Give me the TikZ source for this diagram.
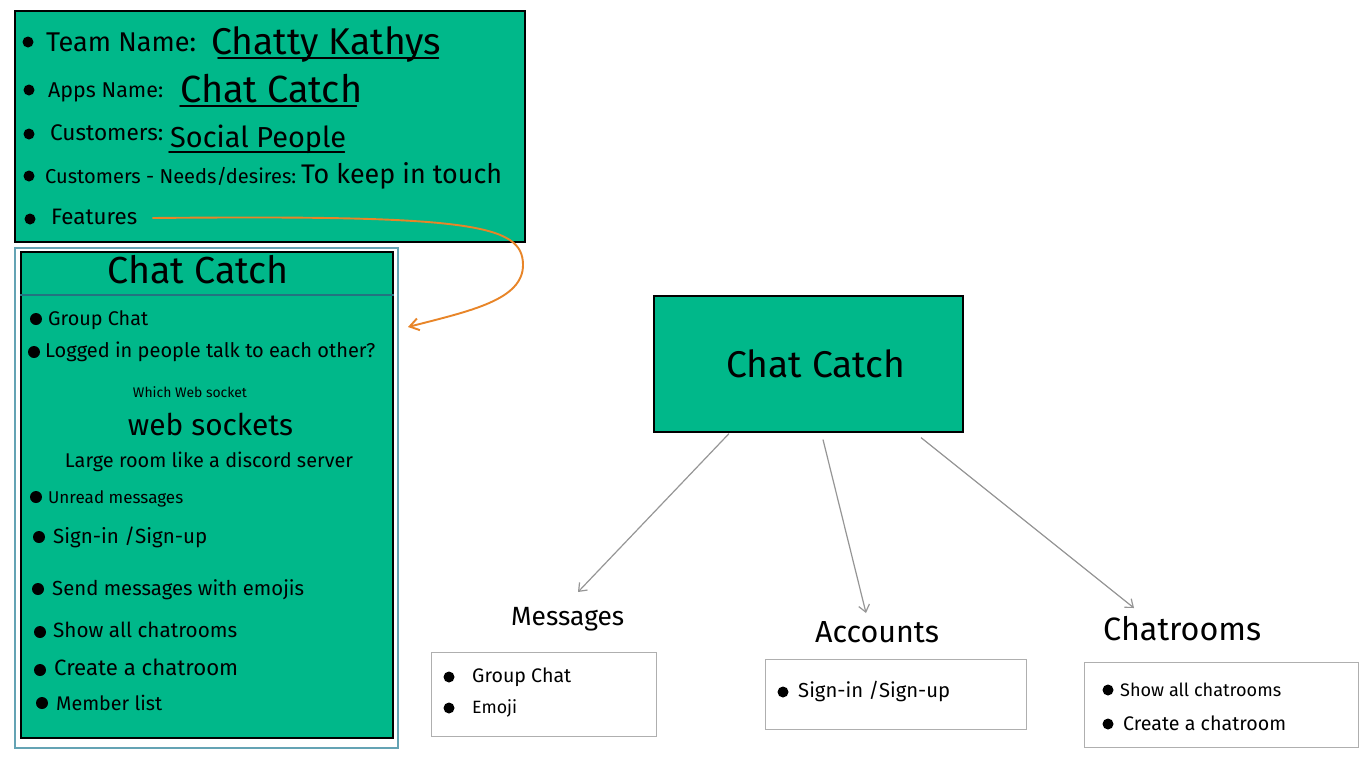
\documentclass[tikz,border=0pt]{standalone}
\usepackage{fontspec}
\usepackage{graphicx}
\setmainfont{Fira Sans}
\usetikzlibrary{arrows.meta,calc}
\definecolor{xgreen}{RGB}{0,184,138}
\definecolor{frameblue}{RGB}{100,163,180}
\definecolor{headteal}{RGB}{35,115,128}
\definecolor{arrgray}{RGB}{150,150,150}
\definecolor{xorange}{RGB}{232,133,40}
\definecolor{boxgray}{RGB}{175,175,175}
\newcommand{\tw}[2]{\resizebox{#1pt}{!}{#2}}
\begin{document}
\begin{tikzpicture}[x=1pt,y=-1pt,
  txt/.style={anchor=base west, inner sep=0pt, text=black},
  ctxt/.style={anchor=base, inner sep=0pt, text=black},
  dot/.style={circle, fill=black, inner sep=0pt, minimum size=11pt},
  bigdot/.style={circle, fill=black, inner sep=0pt, minimum size=12pt},
  gbox/.style={draw=black, fill=xgreen, line width=1.6pt, inner sep=0pt, anchor=north west},
  wbox/.style={draw=boxgray, line width=1.2pt, fill=white, inner sep=0pt, anchor=north west},
  ul/.style={line width=1.6pt, line cap=round},
  garrow/.style={draw=arrgray, line width=1.2pt, -{Straight Barb[length=7pt,width=11pt]}},
  oarrow/.style={draw=xorange, line width=1.9pt, -{Straight Barb[length=9pt,width=12pt]}},
]
\useasboundingbox (0,0) rectangle (1368,758);
\fill[white] (0,0) rectangle (1368,758);

% ---------- top info box ----------
\node[gbox, minimum width=510pt, minimum height=231pt] (top) at (14,10) {};
\node[dot] (d1) at (28,42) {};
\node[txt] (tn) at (46,51) {\tw{150}{Team Name:}};
\node[txt] (ck) at (211,54) {\tw{230}{Chatty Kathys}};
\draw[ul] ($(ck.base west)+(7,4)$) -- ($(ck.base east)+(-3,4)$);
\node[dot] (d2) at (29,90) {};
\node[txt] (an) at (48,97) {\tw{115}{Apps Name:}};
\node[txt] (acn) at (180,102) {\tw{182}{Chat Catch}};
\draw[ul] ($(acn.base west)+(0,4)$) -- ($(acn.base east)+(-6,4)$);
\node[dot] (d3) at (29,134) {};
\node[txt] (cu) at (50,140) {\tw{113}{Customers:}};
\node[txt] (sp) at (170,147) {\tw{176}{Social People}};
\draw[ul] ($(sp.base west)+(-1,5)$) -- ($(sp.base east)+(-2,5)$);
\node[dot] (d4) at (29,176) {};
\node[txt] (nd) at (45,183) {\tw{251}{Customers - Needs/desires:}};
\node[txt] (tk) at (301,183) {\tw{201}{To keep in touch}};
\node[dot] (d5) at (30,219) {};
\node[txt] (feat) at (51,224) {\tw{86}{Features}};

% ---------- left feature box ----------
\node[draw=frameblue, line width=1.5pt, fill=white, inner sep=0pt, anchor=north west,
      minimum width=383pt, minimum height=500pt] (lframe) at (14,247) {};
\node[gbox, minimum width=372pt, minimum height=486pt] (lin) at (20,251) {};
\draw[headteal, line width=1.5pt] ($(lin.north west)+(0,44)$) -- ($(lin.north east)+(0,44)$);
\node[ctxt] (hdr) at (198,283) {\tw{181}{Chat Catch}};
\node[bigdot] (l1) at (36,319) {};
\node[txt] (gc) at (48,325) {\tw{100}{Group Chat}};
\node[bigdot] (l2) at (34,352) {};
\node[txt] (lg) at (45,357) {\tw{330}{Logged in people talk to each other?}};
\node[ctxt] (ws1) at (190,397) {\tw{114}{Which Web socket}};
\node[ctxt] (ws2) at (210.5,435) {\tw{165}{web sockets}};
\node[ctxt] (lr) at (209,467) {\tw{288}{Large room like a discord server}};
\node[bigdot] (l3) at (36,497) {};
\node[txt] (um) at (48,503) {\tw{135}{Unread messages}};
\node[bigdot] (l4) at (39,537) {};
\node[txt] (si) at (53,543) {\tw{154}{Sign-in /Sign-up}};
\node[bigdot] (l5) at (38,589) {};
\node[txt] (sm) at (52,595) {\tw{252}{Send messages with emojis}};
\node[bigdot] (l6) at (40,632) {};
\node[txt] (sa) at (53,637) {\tw{184}{Show all chatrooms}};
\node[bigdot] (l7) at (40,670) {};
\node[txt] (cr) at (54,675) {\tw{184}{Create a chatroom}};
\node[bigdot] (l8) at (42,703) {};
\node[txt] (ml) at (56,710) {\tw{106}{Member list}};

% orange connector
\coordinate (fe) at (408,327);
\draw[oarrow] ($(feat.base east)+(15,-6)$) .. controls (470,215) and (523,224) .. (523,265)
      .. controls (523,300) and (470,311) .. (fe);

% ---------- central diagram ----------
\node[gbox, minimum width=309pt, minimum height=136pt] (cc) at (653,295) {};
\node[txt] (cct) at (726,377) {\tw{179}{Chat Catch}};

\node[txt] (msg) at (511,625) {\tw{113}{Messages}};
\node[txt] (accl) at (815,642) {\tw{124}{Accounts}};
\node[txt] (chr) at (1103,640) {\tw{158}{Chatrooms}};

\draw[garrow] ($(cc.south west)+(76,1)$) -- ($(msg.base west)+(67,-33)$);
\draw[garrow] ($(cc.south west)+(170,7)$) -- ($(accl.base west)+(51,-29)$);
\draw[garrow] ($(cc.south west)+(268,5)$) -- ($(chr.base west)+(31,-32)$);

\node[wbox, minimum width=225pt, minimum height=84pt] (mbox) at (431,652) {};
\node[dot] (m1) at (449,677) {};
\node[txt] (mt1) at (472,682) {\tw{99}{Group Chat}};
\node[dot] (m2) at (449,708) {};
\node[txt] (mt2) at (472,713) {\tw{45}{Emoji}};

\node[wbox, minimum width=261pt, minimum height=70pt] (abox) at (765,659) {};
\node[dot] (a1) at (783,692) {};
\node[txt] (at1) at (798,697) {\tw{152}{Sign-in /Sign-up}};

\node[wbox, minimum width=274pt, minimum height=85pt] (cbox) at (1084,662) {};
\node[dot] (c1) at (1108,690) {};
\node[txt] (ct1) at (1120,696) {\tw{161}{Show all chatrooms}};
\node[dot] (c2) at (1108,724) {};
\node[txt] (ct2) at (1123,730) {\tw{163}{Create a chatroom}};
\end{tikzpicture}
\end{document}
